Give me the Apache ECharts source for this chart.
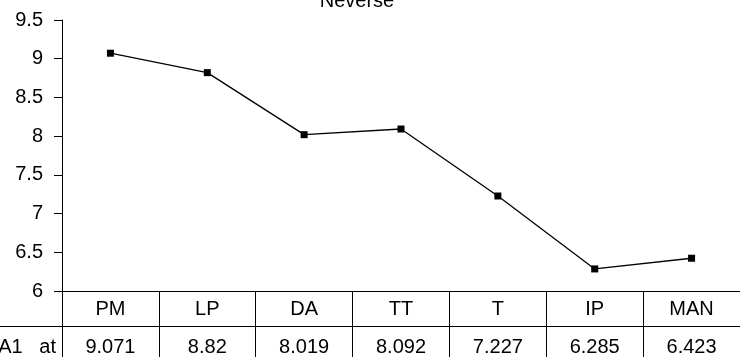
<!DOCTYPE html>
<html>
<head>
<meta charset="utf-8">
<script src="https://cdn.jsdelivr.net/npm/echarts@6/dist/echarts.min.js"></script>
<style>
  html, body { margin: 0; padding: 0; background: #fff; }
  #chart { width: 740px; height: 357px; }
</style>
</head>
<body>
<div id="chart"></div>
<script>
// Scores per group
const categories = ['PM', 'LP', 'DA', 'TT', 'T', 'IP', 'MAN'];
const scores = [9.071, 8.82, 8.019, 8.092, 7.227, 6.285, 6.423];
const yTicks = { min: 6, max: 9.5, step: 0.5 };
const titleText = 'Neverse';
const rowHeader = 'A1   at';

const FONT = '"Liberation Sans", Arial, sans-serif';
const FS = 20;

const chart = echarts.init(document.getElementById('chart'), null, { renderer: 'canvas' });

const gridLeft = 62, gridTop = 20, gridHeight = 271, gridWidth = 684;
const rowLineY = gridTop + gridHeight + 35;

chart.setOption({
  animation: false,
  backgroundColor: '#ffffff',
  textStyle: { fontFamily: FONT, color: '#000' },
  title: {
    text: titleText,
    left: 352,
    textAlign: 'center',
    top: -14,
    textStyle: { fontFamily: FONT, fontSize: FS, fontWeight: 'normal', color: '#000' }
  },
  grid: { left: gridLeft, top: gridTop, width: gridWidth, height: gridHeight, containLabel: false },
  xAxis: [
    {
      type: 'category',
      data: categories,
      position: 'bottom',
      boundaryGap: true,
      axisLine: { show: true, lineStyle: { color: '#000', width: 1 } },
      axisTick: { show: true, interval: 0, length: 80, lineStyle: { color: '#000', width: 1 } },
      axisLabel: { interval: 0, margin: 18, verticalAlign: 'middle', fontSize: FS, color: '#000', fontFamily: FONT },
      splitLine: { show: false }
    },
    {
      type: 'category',
      data: scores.map(v => String(v)),
      position: 'bottom',
      offset: 35,
      boundaryGap: true,
      axisLine: { show: true, lineStyle: { color: '#000', width: 1 } },
      axisTick: { show: false },
      axisLabel: { interval: 0, margin: 21, verticalAlign: 'middle', fontSize: FS, color: '#000', fontFamily: FONT },
      splitLine: { show: false }
    }
  ],
  yAxis: {
    type: 'value',
    min: yTicks.min,
    max: yTicks.max,
    interval: yTicks.step,
    axisLine: { show: true, lineStyle: { color: '#000', width: 1 } },
    axisTick: { show: true, inside: false, length: 8, lineStyle: { color: '#000', width: 1 } },
    axisLabel: { margin: 19, fontSize: FS, color: '#000', fontFamily: FONT },
    splitLine: { show: false }
  },
  graphic: [
    {
      type: 'line',
      shape: { x1: 0, y1: rowLineY + 0.5, x2: gridLeft, y2: rowLineY + 0.5 },
      style: { stroke: '#000', lineWidth: 1 }
    },
    {
      type: 'text',
      x: 56,
      y: rowLineY + 21,
      style: { text: rowHeader, font: FS + 'px ' + FONT, fill: '#000', align: 'right', verticalAlign: 'middle' }
    }
  ],
  series: [{
    type: 'line',
    xAxisIndex: 0,
    data: scores,
    symbol: 'rect',
    symbolSize: 7,
    lineStyle: { color: '#000', width: 1.3 },
    itemStyle: { color: '#000' }
  }]
});
</script>
</body>
</html>
